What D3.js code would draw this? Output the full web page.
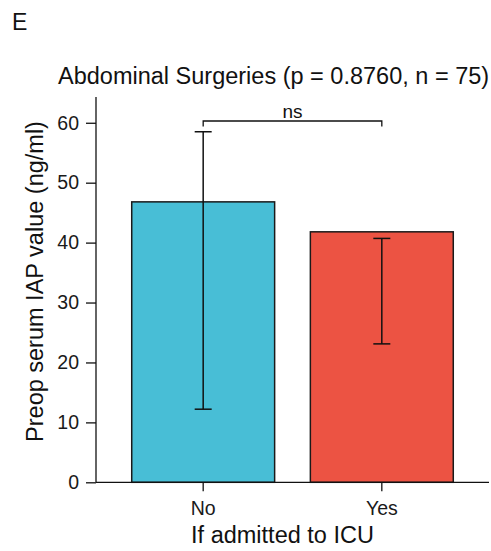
<!DOCTYPE html>
<html>
<head>
<meta charset="utf-8">
<script src="https://cdn.jsdelivr.net/npm/d3@7"></script>
<style>
  body { margin: 0; background: #fff; }
  text { font-family: "Liberation Sans", Arial, sans-serif; }
</style>
</head>
<body>
<svg id="chart" width="491" height="551"></svg>
<script>
// values
let groups = ["No", "Yes"];
let means = [46.8, 41.8];
let errLow = [12.2, 23.1];
let errHigh = [58.5, 40.7];
let fills = ["#48BED6", "#EC5343"];
let yTicks = [0, 10, 20, 30, 40, 50, 60];

let svg = d3.select("#chart");

let plotLeft = 96, plotRight = 489, plotTop = 97, plotBottom = 482.3;

// ggplot style: centres at 1 and 2 in a [0.4, 2.6] range, bar width 0.8
let xc = d3.scaleLinear().domain([0.4, 2.6]).range([plotLeft, plotRight]);
let barW = xc(1.8) - xc(1);

let y = d3.scaleLinear()
        .domain([0, 64.3])
        .range([plotBottom, plotTop]);

// bars
svg.append("g")
        .selectAll("rect")
        .data(groups)
        .join("rect")
        .attr("x", (d, i) => xc(i + 1) - barW / 2)
        .attr("y", (d, i) => y(means[i]))
        .attr("width", barW)
        .attr("height", (d, i) => y(0) - y(means[i]))
        .attr("fill", (d, i) => fills[i])
        .attr("stroke", "#1a1a1a")
        .attr("stroke-width", 1.5);

// error bars
let capW = 17;
let eb = svg.append("g").attr("stroke", "#111").attr("stroke-width", 1.5);
groups.forEach((g, i) => {
        let cx = xc(i + 1);
        eb.append("line").attr("x1", cx).attr("x2", cx).attr("y1", y(errLow[i])).attr("y2", y(errHigh[i]));
        eb.append("line").attr("x1", cx - capW / 2).attr("x2", cx + capW / 2).attr("y1", y(errLow[i])).attr("y2", y(errLow[i]));
        eb.append("line").attr("x1", cx - capW / 2).attr("x2", cx + capW / 2).attr("y1", y(errHigh[i])).attr("y2", y(errHigh[i]));
});

// y axis
let yAxis = d3.axisLeft(y).tickValues(yTicks).tickSize(10).tickPadding(7);
let gy = svg.append("g")
        .attr("transform", `translate(${plotLeft},0)`)
        .call(yAxis);
gy.select(".domain").attr("d", `M0,${plotTop}V${plotBottom}`).attr("stroke", "#111").attr("stroke-width", 1.3);
gy.selectAll(".tick line").attr("stroke", "#111").attr("stroke-width", 1.3);
gy.selectAll(".tick text").attr("fill", "#1a1a1a").style("font-size", "19.5px")
        .style("font-family", "'Liberation Sans', Arial, sans-serif");

// x axis
let gx = svg.append("g")
        .attr("transform", `translate(0,${plotBottom})`);
gx.append("line").attr("x1", plotLeft).attr("x2", plotRight).attr("stroke", "#111").attr("stroke-width", 1.3);
gx.selectAll("g.tick")
        .data(groups)
        .join("g")
        .attr("class", "tick")
        .attr("transform", (d, i) => `translate(${xc(i + 1)},0)`)
        .call(s => {
                s.append("line").attr("y2", 9).attr("stroke", "#111").attr("stroke-width", 1.3);
                s.append("text").attr("y", 33).attr("text-anchor", "middle")
                        .attr("fill", "#1a1a1a").style("font-size", "19.5px").text(d => d);
        });

// significance bracket
let bY = 121, bDrop = 5.5;
let br = svg.append("g");
br.append("path")
        .attr("d", `M${xc(1)},${bY + bDrop}V${bY}H${xc(2)}V${bY + bDrop}`)
        .attr("fill", "none").attr("stroke", "#111").attr("stroke-width", 1.3);
br.append("text")
        .attr("x", (xc(1) + xc(2)) / 2).attr("y", bY - 3.5)
        .attr("text-anchor", "middle").style("font-size", "19px").attr("fill", "#111")
        .text("ns");

// titles
svg.append("text").attr("x", 12).attr("y", 30).style("font-size", "23px").attr("fill", "#111").text("E");
svg.append("text").attr("x", 58).attr("y", 84)
        .style("font-size", "23.5px").attr("fill", "#111")
        .text("Abdominal Surgeries (p = 0.8760, n = 75)");
svg.append("text").attr("x", 282.5).attr("y", 543).attr("text-anchor", "middle")
        .style("font-size", "23.5px").attr("fill", "#111")
        .text("If admitted to ICU");
svg.append("text")
        .attr("transform", `translate(42.5,${281.5}) rotate(-90)`)
        .attr("text-anchor", "middle")
        .style("font-size", "23.5px").attr("fill", "#111")
        .text("Preop serum IAP value (ng/ml)");
</script>
</body>
</html>
